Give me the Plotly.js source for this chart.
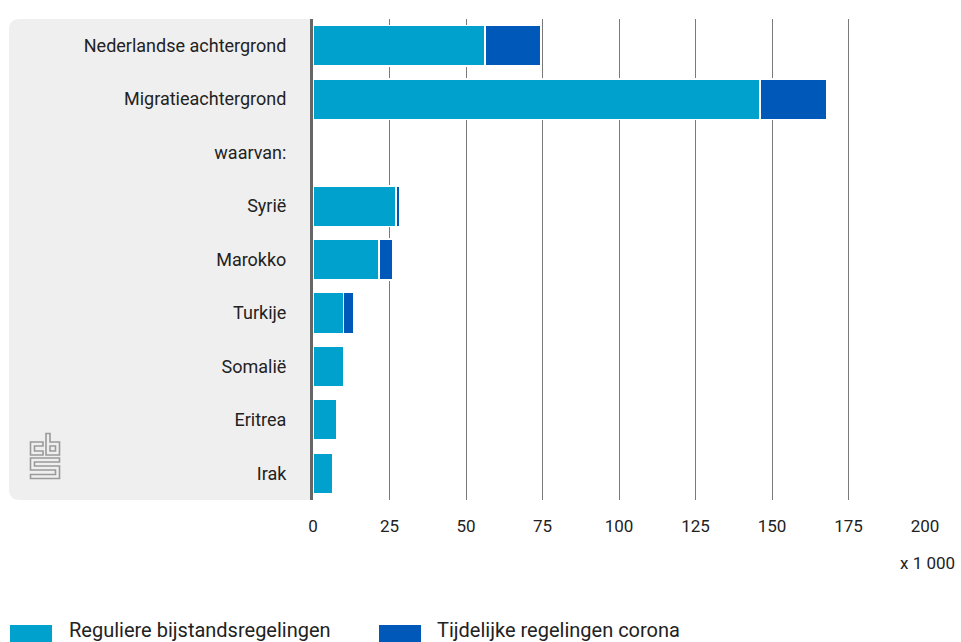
<!DOCTYPE html>
<html>
<head>
<meta charset="utf-8">
<script src="https://cdn.plot.ly/plotly-3.0.1.min.js"></script>
<style>html,body{margin:0;padding:0;background:#fff;}#chart{width:961px;height:642px;}</style>
</head>
<body>
<div id="chart"></div>
<script>
// Data (x 1 000)
const categories = ["Nederlandse achtergrond", "Migratieachtergrond", "waarvan:", "Syrië", "Marokko", "Turkije", "Somalië", "Eritrea", "Irak"];
const reguliere = [56.2, 146.1, null, 27.2, 21.6, 10.0, 9.9, 7.7, 6.5];
const corona = [18.2, 21.9, null, 1.0, 4.3, 3.3, 0, 0, 0];
const seriesNames = ["Reguliere bijstandsregelingen", "Tijdelijke regelingen corona"];
const seriesColors = ["#00a1cd", "#0058b8"];
const xTicks = [0, 25, 50, 75, 100, 125, 150, 175, 200];

const W = 961, H = 642, L = 313, R = 926, T = 19, B = 500;
const px = v => (v - L) / (R - L);
const py = v => (B - v) / (B - T);

const FONT = "Roboto, 'Noto Sans', sans-serif";

const traces = [reguliere, corona].map((vals, i) => ({
  type: "bar",
  orientation: "h",
  name: seriesNames[i],
  y: categories,
  x: vals,
  marker: { color: seriesColors[i], line: { color: "#ffffff", width: 1.5 } },
  hoverinfo: "x+name",
  showlegend: false
}));

const logoSvg = '<svg xmlns="http://www.w3.org/2000/svg" width="64" height="96" viewBox="0 0 32 48">' +
  '<g fill="none" stroke="#9a9a9a" stroke-width="1.6" stroke-linejoin="miter">' +
  '<path d="M14,10 H1.5 V23 H14 V19 H5.5 V14 H14 Z"/>' +
  '<path d="M17,1.5 H21 V10 H30.5 V23 H17 Z"/>' +
  '<path d="M21,14 H26.5 V19 H21 Z"/>' +
  '<path d="M1.5,26 H30.5 V30 H5.5 V34 H30.5 V46.5 H1.5 V42.5 H26.5 V38 H1.5 Z"/>' +
  '</g></svg>';
const logoSrc = "data:image/svg+xml;base64," + btoa(logoSvg);

const rx = 11 / (R - L), ry = 11 / (B - T);
const pl = px(9);
const panelPath = `M0,0 L${pl + rx},0 Q${pl},0 ${pl},${ry} L${pl},${1 - ry} Q${pl},1 ${pl + rx},1 L0,1 Z`;

const shapes = [
  { type: "path", xref: "paper", yref: "paper", path: panelPath, fillcolor: "#efefef", line: { width: 0 }, layer: "below" },
  { type: "rect", xref: "paper", yref: "paper", x0: px(10), x1: px(52), y0: py(642), y1: py(625), fillcolor: seriesColors[0], line: { width: 0 } },
  { type: "rect", xref: "paper", yref: "paper", x0: px(379), x1: px(421), y0: py(642), y1: py(625), fillcolor: seriesColors[1], line: { width: 0 } }
];

const annotations = [
  { xref: "paper", yref: "paper", x: px(957), y: py(563), xanchor: "right", yanchor: "middle", text: "x 1 000", showarrow: false, font: { family: FONT, size: 17, color: "#222" } },
  { xref: "paper", yref: "paper", x: px(67), y: py(630), xanchor: "left", yanchor: "middle", text: seriesNames[0], showarrow: false, font: { family: FONT, size: 20, color: "#222" } },
  { xref: "paper", yref: "paper", x: px(435), y: py(630), xanchor: "left", yanchor: "middle", text: seriesNames[1], showarrow: false, font: { family: FONT, size: 20, color: "#222" } }
];

const layout = {
  width: W, height: H,
  margin: { l: L, r: W - R, t: T, b: H - B, pad: 0 },
  paper_bgcolor: "#ffffff",
  plot_bgcolor: "rgba(0,0,0,0)",
  barmode: "stack",
  bargap: 0.24,
  showlegend: false,
  font: { family: FONT, size: 16, color: "#222" },
  xaxis: {
    range: [0, 200.3],
    tickvals: xTicks,
    ticktext: xTicks.map(String),
    showgrid: true, gridcolor: "#7a7a7a", gridwidth: 1,
    zeroline: false, showline: false, ticks: "",
    ticklabelstandoff: 14,
    tickfont: { family: FONT, size: 17, color: "#222" },
    fixedrange: true
  },
  yaxis: {
    autorange: "reversed",
    type: "category",
    showgrid: false, zeroline: false,
    showline: true, linecolor: "#666666", linewidth: 3,
    ticks: "",
    ticklabelstandoff: 20,
    tickfont: { family: FONT, size: 18, color: "#222" },
    fixedrange: true
  },
  shapes: shapes,
  annotations: annotations,
  images: [{ source: logoSrc, xref: "paper", yref: "paper", x: px(29), y: py(432), sizex: 32 / (R - L), sizey: 48 / (B - T), xanchor: "left", yanchor: "top", sizing: "stretch", layer: "above" }]
};

Plotly.newPlot("chart", traces, layout, { displayModeBar: false });
</script>
</body>
</html>
